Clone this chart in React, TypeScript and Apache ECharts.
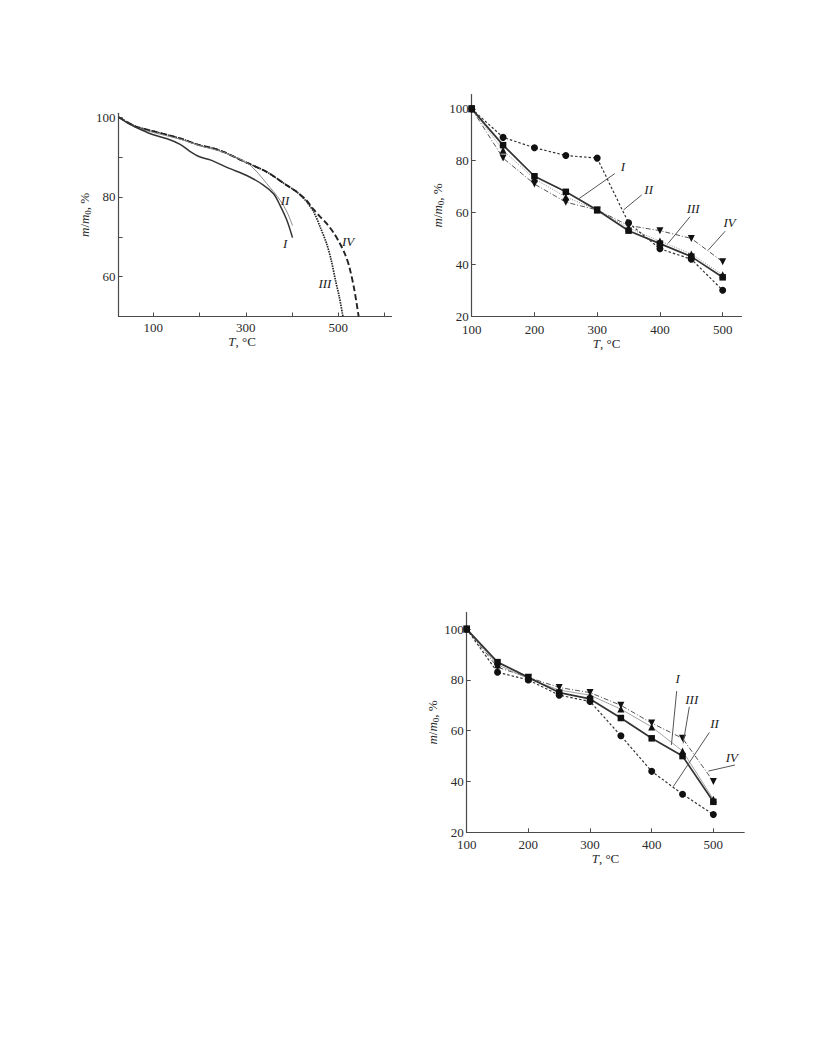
import React, { useEffect, useRef } from "react";
import * as echarts from "echarts";

// ---------- Chart 1 (top-left): thermogravimetric curves ----------
const c1XTicks = [100, 200, 300, 400, 500, 600];
const c1XLabels = [100, 300, 500];
const c1YTicks = [60, 70, 80, 90, 100];
const c1YLabels = [60, 80, 100];

const curveI = [[26, 100], [50, 98.2], [75, 96.8], [100, 95.6], [130, 94.6], [158, 93.2], [180, 91.4], [200, 90.1], [223, 89.3], [266, 87.1], [302, 85.4], [338, 83], [360, 80.8], [374, 77.9], [389, 74.1], [401, 69.8]];
const curveII = [[26, 100], [60, 97.6], [100, 96.2], [158, 94.5], [200, 92.9], [252, 91.2], [302, 88.6], [320, 86.8], [345, 83.4], [374, 79.2], [390, 76], [401, 72.8]];
const curveIII = [[26, 100], [60, 97.8], [100, 96.5], [158, 94.7], [200, 93], [230, 92.2], [252, 91.3], [280, 89.8], [302, 88.6], [345, 86.3], [389, 82.9], [410, 81.3], [430, 79], [447, 76.2], [461, 72.4], [475, 68.2], [485, 64], [494, 59], [502, 55], [510, 50]];
const curveIV = [[26, 100], [60, 97.8], [100, 96.5], [158, 94.7], [200, 93], [230, 92.2], [252, 91.3], [280, 89.8], [302, 88.6], [345, 86.3], [389, 82.9], [410, 81.3], [430, 79.3], [447, 76.8], [461, 75], [475, 73.3], [490, 71], [504, 68.2], [515, 65.5], [524, 62.4], [535, 56.5], [544, 50]];
const c1LabelNames = ["I", "II", "III", "IV"];
const c1LabelPos = [[385, 68.2], [385, 79.2], [471, 58.4], [521, 68.7]];

// ---------- Chart 2 (top-right) ----------
const temps = [100, 150, 200, 250, 300, 350, 400, 450, 500];
const c2Circle = [100, 89, 85, 82, 81, 56, 46, 42, 30];
const c2Square = [100, 86, 74, 68, 61, 53, 48, 43, 35];
const c2Up = [100, 84, 73, 66, 61, 54, 49, 44, 36];
const c2Down = [100, 81, 71, 64, 61, 55, 53, 50, 41];
const c2ArrowFrom = [[270, 65.2], [342, 61], [413, 48.1], [477, 45.5]];
const c2ArrowTo = [[328, 75], [371, 66.8], [448, 58.4], [504, 52.8]];
const c2LabelPos = [[341, 77.6], [382, 69], [453, 61.4], [511, 56]];

// ---------- Chart 3 (bottom-right) ----------
const c3Circle = [100, 83, 80, 74, 71.5, 58, 44, 35, 27];
const c3Square = [100, 87, 81, 75, 72.5, 65, 57, 50, 32];
const c3Up = [100, 86, 80.5, 76, 74, 68.5, 61.5, 52, 33];
const c3Down = [100, 85, 81, 77, 75, 70, 63, 57, 40];
const c3ArrowFrom = [[432, 54.4], [435, 38], [451, 55], [492, 44.1]];
const c3ArrowTo = [[440.5, 75.6], [493.5, 59.3], [461, 69.4], [535, 46.5]];
const c3ArrowNames = ["I", "II", "III", "IV"];
const c3LabelPos = [[442, 80.6], [502, 63], [465, 72.4], [530, 49.4]];

const xTicks23 = [100, 200, 300, 400, 500];
const yTicks23 = [20, 40, 60, 80, 100];

const FONT = "'Liberation Serif', 'Times New Roman', serif";
const INK = "#2a2a2a";
const AXIS = "#4a4a4a";

const richName = {
  i: { fontStyle: "italic", fontFamily: FONT, fontSize: 13, color: INK },
  s: { fontFamily: FONT, fontSize: 9, color: INK, padding: [7, 0, 0, 0] },
  n: { fontFamily: FONT, fontSize: 13, color: INK },
};

function xAxis(grid: number, min: number, max: number, ticks: number[], labels: number[], gap: number, pad: number[], margin: number) {
  return {
    type: "value",
    gridIndex: grid,
    min,
    max,
    name: "{i|T}{n|, °C}",
    nameLocation: "middle",
    nameGap: gap,
    nameTextStyle: { rich: richName, padding: pad },
    axisLine: { show: true, lineStyle: { color: AXIS, width: 1.2 } },
    axisTick: { show: true, inside: true, length: 4, customValues: ticks, lineStyle: { color: AXIS } },
    axisLabel: { customValues: labels, fontFamily: FONT, fontSize: 13, color: INK, margin },
    splitLine: { show: false },
  };
}

function yAxis(grid: number, min: number, max: number, ticks: number[], labels: number[], gap: number) {
  return {
    type: "value",
    gridIndex: grid,
    min,
    max,
    name: "{i|m}{n|/}{i|m}{s|0}{n|, %}",
    nameLocation: "middle",
    nameRotate: 90,
    nameGap: gap,
    nameTextStyle: { rich: richName },
    axisLine: { show: true, lineStyle: { color: AXIS, width: 1.2 } },
    axisTick: { show: true, inside: true, length: 4, customValues: ticks, lineStyle: { color: AXIS } },
    axisLabel: { customValues: labels, fontFamily: FONT, fontSize: 13, color: INK, margin: 3 },
    splitLine: { show: false },
  };
}

function pairs(vals: number[]) {
  return temps.map((t, i) => [t, vals[i]]);
}

const labelStyle = { show: true, position: "inside", formatter: "{b}", fontFamily: FONT, fontStyle: "italic", fontSize: 13, color: "#222" };

function labelPoints(names: string[], pos: number[][]) {
  return {
    symbol: "circle",
    symbolSize: 0,
    silent: true,
    itemStyle: { color: "transparent" },
    label: labelStyle,
    data: names.map((n, i) => ({ name: n, coord: pos[i], label: { color: "#222" } })),
  };
}

function arrows(from: number[][], to: number[][]) {
  return {
    silent: true,
    symbol: ["none", "arrow"],
    symbolSize: [0, 8],
    label: { show: false },
    lineStyle: { color: "#555", width: 1, type: "solid" },
    emphasis: { disabled: true },
    data: from.map((f, i) => [{ coord: f }, { coord: to[i] }]),
  };
}

function pointSeries(grid: number, vals: number[], symbol: string, rotate: number, size: number, lineType: any, lineColor: string, width: number, extra: any = {}) {
  return {
    type: "line",
    xAxisIndex: grid,
    yAxisIndex: grid,
    data: pairs(vals),
    symbol,
    symbolRotate: rotate,
    symbolSize: size,
    showSymbol: true,
    itemStyle: { color: "#111" },
    lineStyle: { color: lineColor, width, type: lineType },
    z: 3,
    ...extra,
  };
}

export default function App() {
  const ref = useRef<HTMLDivElement>(null);
  useEffect(() => {
    if (!ref.current) return;
    const chart = echarts.init(ref.current, undefined, { renderer: "svg" });
    const option: any = {
      animation: false,
      backgroundColor: "#ffffff",
      grid: [
        { left: 118.6, top: 113.3, width: 272.9, height: 203.2 },
        { left: 471.7, top: 94.6, width: 269.8, height: 221.6 },
        { left: 466.7, top: 612.6, width: 277.5, height: 219.7 },
      ],
      xAxis: [
        xAxis(0, 25, 615, c1XTicks, c1XLabels, 18, [0, 26, 0, 0], 4),
        xAxis(1, 100, 530, xTicks23, xTicks23, 20, [0, 0, 0, 0], 7),
        xAxis(2, 100, 550, xTicks23, xTicks23, 16, [0, 0, 0, 0], 6),
      ],
      yAxis: [
        yAxis(0, 50, 101, c1YTicks, c1YLabels, 14),
        yAxis(1, 20, 105.5, yTicks23, yTicks23, 15),
        yAxis(2, 20, 106.5, yTicks23, yTicks23, 26),
      ],
      series: [
        // chart 1
        {
          type: "line", xAxisIndex: 0, yAxisIndex: 0, data: curveIV, smooth: 0.3, showSymbol: false,
          lineStyle: { color: "#222", width: 1.9, type: [6, 3] },
        },
        {
          type: "line", xAxisIndex: 0, yAxisIndex: 0, data: curveIII, smooth: 0.3, showSymbol: false,
          lineStyle: { color: "#222", width: 1.7, type: [1.5, 1] },
        },
        {
          type: "line", xAxisIndex: 0, yAxisIndex: 0, data: curveII, smooth: 0.3, showSymbol: false,
          lineStyle: { color: "#888", width: 1, type: "solid" },
        },
        {
          type: "line", xAxisIndex: 0, yAxisIndex: 0, data: curveI, smooth: 0.3, showSymbol: false,
          lineStyle: { color: "#333", width: 1.5, type: "solid" },
          markPoint: labelPoints(c1LabelNames, c1LabelPos),
        },
        // chart 2
        pointSeries(1, c2Down, "triangle", 180, 7, [5, 2, 1, 2], "#555", 1),
        pointSeries(1, c2Up, "triangle", 0, 7, [1, 1.5], "#888", 1),
        pointSeries(1, c2Circle, "circle", 0, 7, [2.5, 2], "#333", 1.2, {
          markLine: arrows(c2ArrowFrom, c2ArrowTo),
        }),
        pointSeries(1, c2Square, "rect", 0, 6.5, "solid", "#333", 1.7, {
          markPoint: labelPoints(c1LabelNames, c2LabelPos),
        }),
        // chart 3
        pointSeries(2, c3Down, "triangle", 180, 7, [5, 2, 1, 2], "#555", 1),
        pointSeries(2, c3Up, "triangle", 0, 7, "solid", "#999", 0.9),
        pointSeries(2, c3Circle, "circle", 0, 7, [2.5, 2], "#333", 1.2, {
          markLine: arrows(c3ArrowFrom, c3ArrowTo),
        }),
        pointSeries(2, c3Square, "rect", 0, 6.5, "solid", "#333", 1.7, {
          markPoint: labelPoints(c3ArrowNames, c3LabelPos),
        }),
      ],
    };
    chart.setOption(option);
    return () => chart.dispose();
  }, []);
  return (
    <div
      ref={ref}
      style={{ position: "absolute", left: 0, top: 0, width: 816, height: 1056, background: "#fff" }}
    />
  );
}
